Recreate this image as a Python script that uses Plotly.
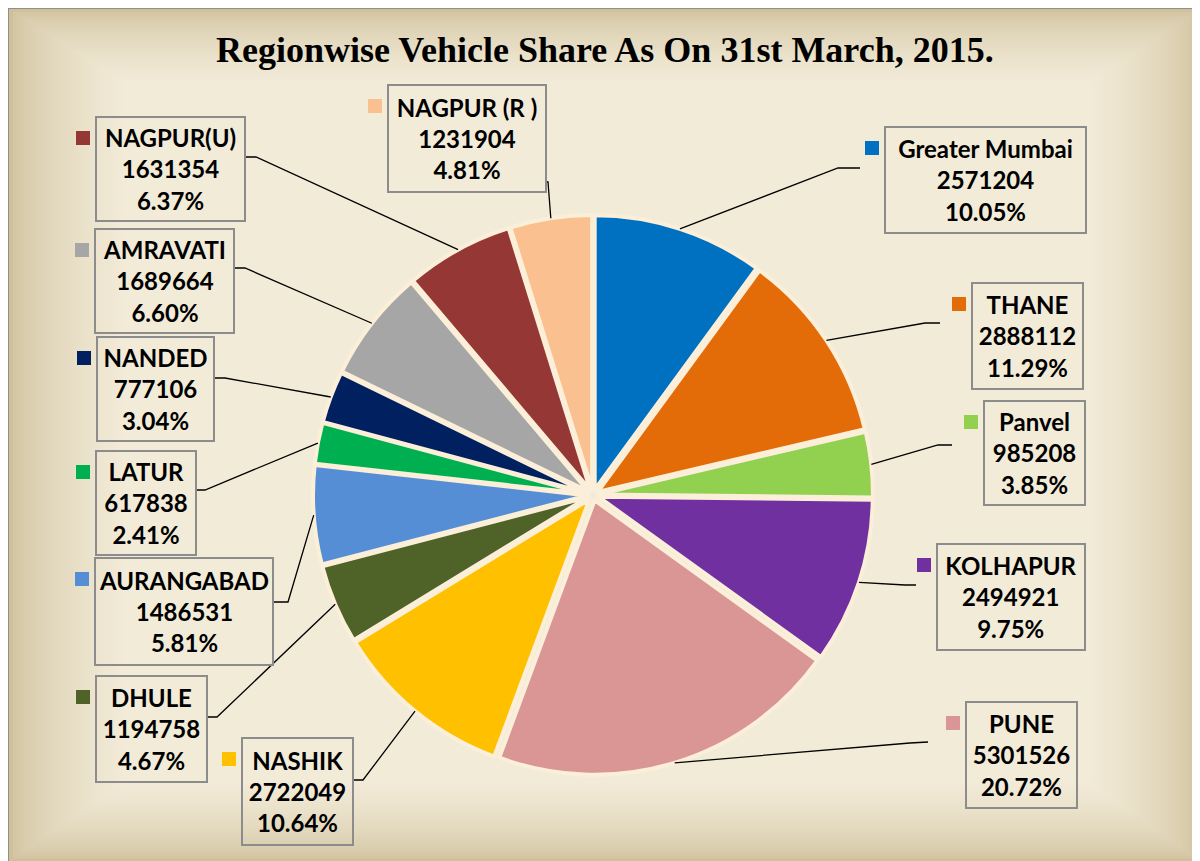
import math
import plotly.graph_objects as go

# ---------------- data ----------------
regions = ["Greater Mumbai", "THANE", "Panvel", "KOLHAPUR", "PUNE", "NASHIK", "DHULE",
           "AURANGABAD", "LATUR", "NANDED", "AMRAVATI", "NAGPUR(U)", "NAGPUR (R )"]
vehicles = [2571204, 2888112, 985208, 2494921, 5301526, 2722049, 1194758,
            1486531, 617838, 777106, 1689664, 1631354, 1231904]
colors = ["#0070C0", "#E36C09", "#92D050", "#7030A0", "#D99694", "#FFC000", "#4F6228",
          "#558ED5", "#00B050", "#002060", "#A6A6A6", "#953735", "#FAC090"]
title_text = "Regionwise Vehicle Share As On 31st March, 2015."

# ---------------- layout helpers (screen pixel positions) ----------------
W, H = 1200, 861
OFF = 8  # page body margin
CX, CY, R = 593, 495, 280
PULL = 0.02

# box: left, top, right, bottom ; elbow ; end (pixels)
label_layout = [
    dict(box=(885, 127, 1086, 233), elbow=(838, 168), end=(860, 168)),
    dict(box=(972, 283, 1083, 389), elbow=(925, 323), end=(940, 323)),
    dict(box=(984, 401, 1085, 505), elbow=(938, 445), end=(952, 445)),
    dict(box=(937, 544, 1085, 650), elbow=(905, 585), end=(916, 585)),
    dict(box=(966, 702, 1077, 808), elbow=(910, 743), end=(928, 742)),
    dict(box=(242, 738, 353, 845), elbow=(363, 780), end=(353, 780)),
    dict(box=(96, 676, 207, 782), elbow=(217, 717), end=(207, 717)),
    dict(box=(95, 558, 273, 665), elbow=(288, 602), end=(273, 602)),
    dict(box=(96, 451, 196, 555), elbow=(205, 490), end=(196, 490)),
    dict(box=(97, 337, 214, 441), elbow=(225, 378), end=(214, 378)),
    dict(box=(95, 229, 234, 333), elbow=(245, 268), end=(234, 268)),
    dict(box=(96, 117, 245, 221), elbow=(256, 157), end=(245, 157)),
    dict(box=(388, 85, 546, 192), elbow=(548, 182), end=(546, 182)),
]


def px(x):
    return (x - OFF) / W


def py(y):
    return 1 - (y - OFF) / H


fig = go.Figure()

# ---------------- background gradient (rectangular, from centre) ----------------
shapes = []
shapes.append(dict(type="rect", xref="paper", yref="paper", x0=px(8), x1=px(1215),
                   y0=py(875), y1=py(8), fillcolor="#CFC09B",
                   line=dict(color="#8E8E8E", width=2), layer="below"))
c_out = (0xCF, 0xC0, 0x9B)
c_in = (0xF2, 0xEB, 0xD8)
N = 30
for i in range(1, N + 1):
    t = (i / N) ** 0.6
    c = tuple(round(a + (b - a) * t) for a, b in zip(c_out, c_in))
    shapes.append(dict(type="rect", xref="paper", yref="paper",
                       x0=px(9 + i * 3.8), x1=px(1200 - i * 3.6),
                       y0=py(861 - i * 2.6), y1=py(9 + i * 2.4),
                       fillcolor="rgb(%d,%d,%d)" % c, line=dict(width=0), layer="below"))

# ---------------- pie ----------------
fig.add_trace(go.Pie(
    values=vehicles, labels=regions, sort=False, direction="clockwise", rotation=0,
    marker=dict(colors=colors, line=dict(color="#FBEFD9", width=4)),
    pull=PULL, textinfo="none", showlegend=False, hoverinfo="label+value+percent",
    domain=dict(x=[px(CX - R), px(CX + R)], y=[py(CY + R), py(CY - R)]),
))

# ---------------- labels, markers, leader lines ----------------
total = sum(vehicles)
annotations = []
cum = 0
for name, val, col, lay in zip(regions, vehicles, colors, label_layout):
    mid = (cum + val / 2) / total * 2 * math.pi
    cum += val
    sx = CX + R * math.sin(mid)
    sy = CY - R * math.cos(mid)
    ex, ey = lay["elbow"]
    nx, ny = lay["end"]
    shapes.append(dict(type="path", xref="paper", yref="paper",
                       path="M %f %f L %f %f L %f %f" % (px(sx), py(sy), px(ex), py(ey), px(nx), py(ny)),
                       line=dict(color="black", width=1.3)))
    l, t, r, b = lay["box"]
    pct = "%.2f%%" % (val / total * 100)
    annotations.append(dict(
        x=px((l + r) / 2), y=py((t + b) / 2), xref="paper", yref="paper",
        text="<b>%s<br>%d<br>%s</b>" % (name, val, pct), showarrow=False,
        font=dict(family="Lato, 'Open Sans', sans-serif", size=24, color="black"),
        align="center", bordercolor="#8C8C8C", borderwidth=2, borderpad=1,
        width=r - l - 4, height=b - t - 4, xanchor="center", yanchor="middle",
    ))
    # colour marker square
    shapes.append(dict(type="rect", xref="paper", yref="paper",
                       x0=px(l - 20), x1=px(l - 6), y0=py(t + 28), y1=py(t + 14),
                       fillcolor=col, line=dict(width=0)))

annotations.append(dict(
    x=px(605), y=py(50), xref="paper", yref="paper", showarrow=False,
    text="<b>%s</b>" % title_text,
    font=dict(family="'Liberation Serif', 'Times New Roman', serif", size=36, color="black"),
    xanchor="center", yanchor="middle",
))

fig.update_layout(
    width=W, height=H, margin=dict(l=0, r=0, t=0, b=0),
    paper_bgcolor="white", plot_bgcolor="white",
    shapes=shapes, annotations=annotations, showlegend=False,
)

fig.write_html("out.html")
